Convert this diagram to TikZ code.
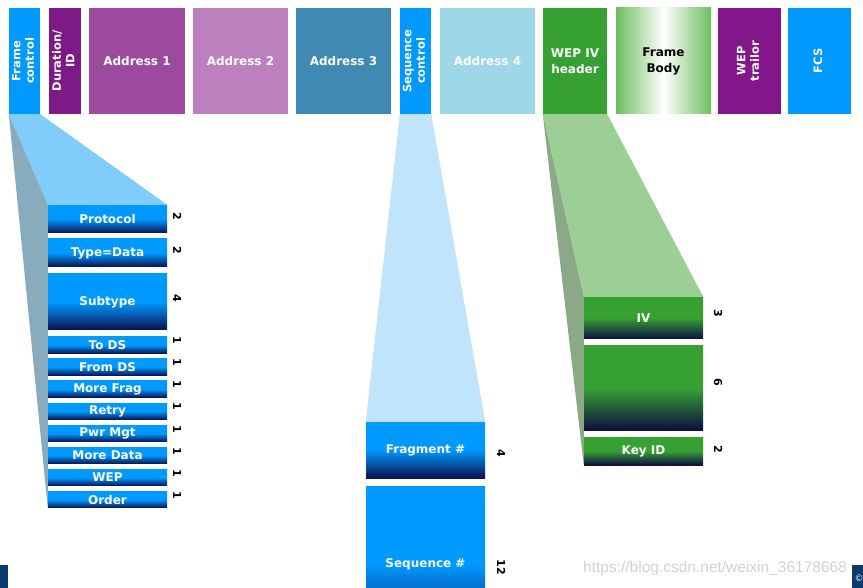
\documentclass[tikz,border=0pt]{standalone}
\usepackage{fontspec}
\setmainfont{DejaVu Sans}
\newfontfamily\wmfont{Liberation Sans}
\usepackage{graphicx}
\usepackage{tikz}

\definecolor{fcblue}{RGB}{0,153,255}
\definecolor{durpurple}{RGB}{125,26,133}
\definecolor{addrone}{RGB}{156,74,158}
\definecolor{addrtwo}{RGB}{187,128,189}
\definecolor{addrthree}{RGB}{63,137,179}
\definecolor{addrfour}{RGB}{157,215,232}
\definecolor{wepgreen}{RGB}{54,160,51}
\definecolor{bodygreen}{RGB}{109,189,94}
\definecolor{weppurple}{RGB}{130,22,138}
\definecolor{fanblue}{RGB}{128,204,250}
\definecolor{fangray}{RGB}{136,171,190}
\definecolor{seqfan}{RGB}{191,228,251}
\definecolor{greenfan}{RGB}{155,207,150}
\definecolor{greengray}{RGB}{139,168,135}
\definecolor{deepnavy}{RGB}{11,17,80}
\definecolor{greennavy}{RGB}{14,14,64}
\definecolor{cornerblue}{RGB}{10,58,110}

\newcommand{\hdrfont}{\fontsize{12}{16}\selectfont\bfseries}
\newcommand{\sidefont}{\fontsize{11.5}{13.5}\selectfont\bfseries}
\newcommand{\bitfont}{\fontsize{11}{12}\selectfont\bfseries}
\newcommand{\sidetext}[1]{\rotatebox{90}{\begin{tabular}{@{}c@{}}#1\end{tabular}}}

\tikzset{
  hdr/.style={inner sep=0pt, minimum height=106pt, text=white, font=\hdrfont, align=center},
  side/.style={inner sep=0pt, minimum height=106pt, text=white, font=\sidefont},
  fcfield/.style={inner sep=0pt, minimum width=119pt, text=white, font=\hdrfont,
    top color=fcblue, bottom color=deepnavy, middle color=fcblue},
  ivfield/.style={inner sep=0pt, minimum width=119pt, text=white, font=\hdrfont,
    top color=wepgreen, bottom color=greennavy, middle color=wepgreen},
  bits/.style={inner sep=0pt, font=\bitfont, rotate=-90}
}

\begin{document}
\begin{tikzpicture}[x=1pt,y=-1pt]

\useasboundingbox (0,0) rectangle (863,588);
\clip (0,0) rectangle (863,588);
\fill[white] (0,0) rectangle (863,588);

% Header fields
\node[side, fill=fcblue, minimum width=31pt] (fc) at (24.5,61) {\sidetext{Frame\\control}};
\node[side, fill=durpurple, minimum width=32pt] (dur) at (65,61) {\sidetext{Duration/\\ID}};
\node[hdr, fill=addrone, minimum width=96pt] (addra) at (137,61) {Address 1};
\node[hdr, fill=addrtwo, minimum width=95pt] (addrb) at (240.5,61) {Address 2};
\node[hdr, fill=addrthree, minimum width=95pt] (addrc) at (343.5,61) {Address 3};
\node[side, fill=fcblue, minimum width=31pt] (seq) at (415.5,61) {\sidetext{Sequence\\control}};
\node[hdr, fill=addrfour, minimum width=95pt] (addrd) at (487.5,61) {Address 4};
\node[hdr, fill=wepgreen, minimum width=64pt] (wepiv) at (575,61) {WEP IV\\header};
\node[hdr, left color=bodygreen, right color=bodygreen, middle color=white,
  text=black, minimum width=95pt] (body) at (663.5,61) {Frame\\Body};
\node[side, fill=weppurple, minimum width=63pt] (weptr) at (749.5,61) {\sidetext{WEP\\trailor}};
\node[side, fill=fcblue, minimum width=63pt] (fcs) at (819.5,61) {\sidetext{FCS}};

% Frame control fields
\node[fcfield, minimum height=28pt] (proto) at (107.5,219) {Protocol};
\node[fcfield, minimum height=28pt] (type) at (107.5,253) {Type=Data};
\node[fcfield, minimum height=56pt] (subtype) at (107.5,302) {Subtype};
\node[fcfield, minimum height=16.5pt] (tods) at (107.5,345) {To DS};
\node[fcfield, minimum height=16.5pt] (fromds) at (107.5,367.1) {From DS};
\node[fcfield, minimum height=16.5pt] (morefrag) at (107.5,389.2) {More Frag};
\node[fcfield, minimum height=16.5pt] (retry) at (107.5,411.3) {Retry};
\node[fcfield, minimum height=16.5pt] (pwrmgt) at (107.5,433.4) {Pwr Mgt};
\node[fcfield, minimum height=16.5pt] (moredata) at (107.5,455.5) {More Data};
\node[fcfield, minimum height=16.5pt] (wep) at (107.5,477.6) {WEP};
\node[fcfield, minimum height=16.5pt] (order) at (107.5,499.7) {Order};

% Bit counts
\node[bits] (nproto) at ([xshift=10pt,yshift=2.5pt]proto.east) {2};
\node[bits] (ntype) at ([xshift=10pt,yshift=2.5pt]type.east) {2};
\node[bits] (nsubtype) at ([xshift=10pt,yshift=4pt]subtype.east) {4};
\node[bits] (ntods) at ([xshift=10pt,yshift=4.5pt]tods.east) {1};
\node[bits] (nfromds) at ([xshift=10pt,yshift=4.5pt]fromds.east) {1};
\node[bits] (nmorefrag) at ([xshift=10pt,yshift=4.5pt]morefrag.east) {1};
\node[bits] (nretry) at ([xshift=10pt,yshift=4.5pt]retry.east) {1};
\node[bits] (npwrmgt) at ([xshift=10pt,yshift=4.5pt]pwrmgt.east) {1};
\node[bits] (nmoredata) at ([xshift=10pt,yshift=4.5pt]moredata.east) {1};
\node[bits] (nwep) at ([xshift=10pt,yshift=4.5pt]wep.east) {1};
\node[bits] (norder) at ([xshift=10pt,yshift=4.5pt]order.east) {1};

% Sequence control fields
\node[fcfield, minimum height=56pt] (frag) at (425.5,450) {Fragment \#};
\node[fcfield, minimum height=156pt] (seqnum) at (425.5,564) {Sequence \#};
\node[bits] (nfrag) at ([xshift=16pt,yshift=-3pt]frag.east) {4};
\node[bits] (nseqnum) at ([xshift=16pt,yshift=-3pt]seqnum.east) {12};

% WEP IV header fields
\node[ivfield, minimum height=42pt] (iv) at (643.5,318) {IV};
\node[ivfield, minimum height=84pt] (wepmid) at (643.5,388) {};
\node[ivfield, minimum height=28pt] (keyid) at (643.5,451) {Key ID};
\node[bits] (niv) at ([xshift=15pt,yshift=4.5pt]iv.east) {3};
\node[bits] (nwepmid) at ([xshift=15pt,yshift=6pt]wepmid.east) {6};
\node[bits] (nkeyid) at ([xshift=15pt,yshift=1.5pt]keyid.east) {2};

% Fans
\fill[fanblue] (fc.south west) -- (fc.south east) -- (proto.north east) -- (proto.north west) -- cycle;
\fill[fangray] (fc.south west) -- (proto.north west) -- (order.south west) -- cycle;
\fill[seqfan] (seq.south west) -- (seq.south east) -- (frag.north east) -- (frag.north west) -- cycle;
\fill[greenfan] (wepiv.south west) -- (wepiv.south east) -- (iv.north east) -- (iv.north west) -- cycle;
\fill[greengray] (wepiv.south west) -- (iv.north west) -- (keyid.south west) -- cycle;

% Watermark and corners
\node[anchor=west, inner sep=0pt, text=gray!35, font=\wmfont\fontsize{15.5}{18}\selectfont]
  (wm) at (583,568) {https://blog.csdn.net/weixin\_36178668};
\fill[cornerblue] (0,565) rectangle (8,588);
\fill[cornerblue] (852,565) rectangle (863,588);
\node[text=white, inner sep=0pt, font=\fontsize{9}{10}\selectfont] (copy) at (859,578) {©};

\end{tikzpicture}
\end{document}
